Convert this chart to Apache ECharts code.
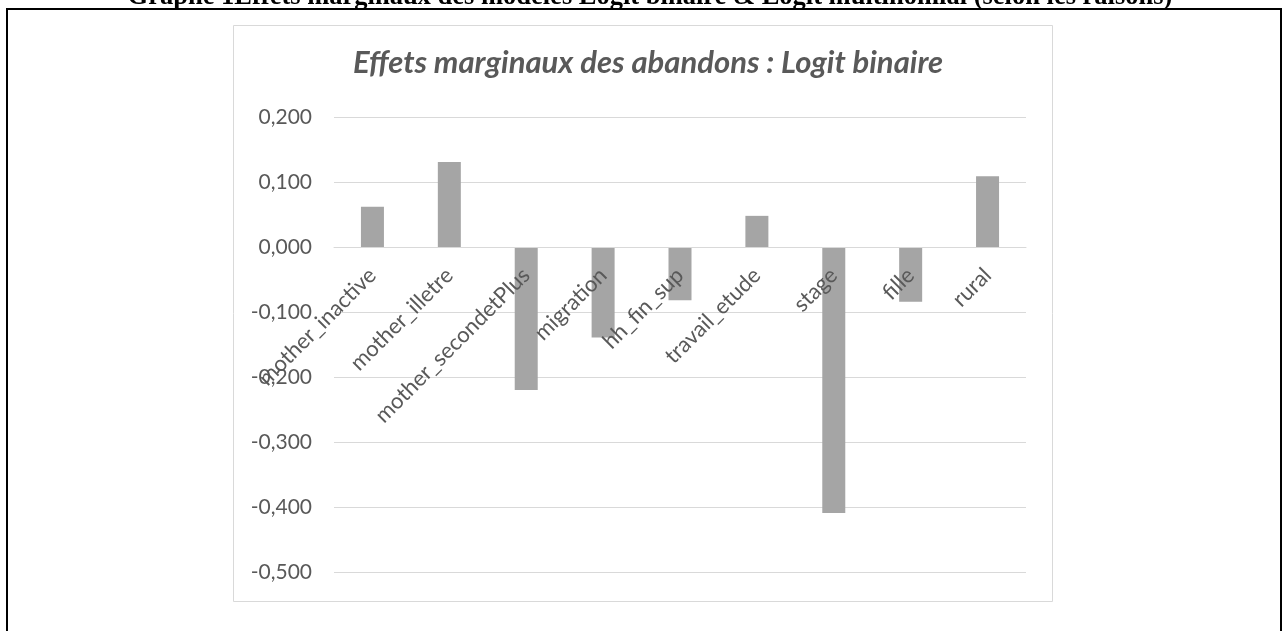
<!DOCTYPE html>
<html>
<head>
<meta charset="utf-8">
<script src="https://cdn.jsdelivr.net/npm/echarts@6/dist/echarts.min.js"></script>
<style>
html,body{margin:0;padding:0;background:#fff;}
#chart{width:1283px;height:631px;}
</style>
</head>
<body>
<div id="chart"></div>
<script>
const categories = ['mother_inactive','mother_illetre','mother_secondetPlus','migration','hh_fin_sup','travail_etude','stage','fille','rural'];
const values = [0.063, 0.132, -0.219, -0.138, -0.081, 0.049, -0.408, -0.083, 0.110];
const chartTitle = 'Effets marginaux des abandons : Logit binaire';
const docCaption = 'Graphe 1Effets marginaux des modèles Logit binaire & Logit multinomial (selon les raisons)';

const chart = echarts.init(document.getElementById('chart'), null, {renderer:'canvas'});
chart.setOption({
  animation:false,
  backgroundColor:'#ffffff',
  title:{
    text:chartTitle,
    left:643, textAlign:'center', top:42,
    textStyle:{fontFamily:'Lato', fontStyle:'italic', fontWeight:'bold', fontSize:31, color:'#595959'}
  },
  graphic:[
    {type:'text', silent:true, z:1, x:650, y:11,
     style:{text:docCaption, x:0, y:0, textAlign:'center', textVerticalAlign:'bottom',
            font:'bold 26.5px "Liberation Serif"', fill:'#000'}},
    {type:'rect', silent:true, z:2,
     shape:{x:7,y:9,width:1274,height:700},
     style:{fill:'none', stroke:'#000', lineWidth:2}},
    {type:'rect', silent:true, z:2,
     shape:{x:233.5,y:25.5,width:819,height:576},
     style:{fill:'none', stroke:'#d9d9d9', lineWidth:1}}
  ],
  grid:{left:334, right:257, top:117.7, bottom:58.3, containLabel:false, outerBoundsMode:'none'},
  xAxis:{
    type:'category', data:categories, z:10,
    axisLine:{show:true, onZero:false, lineStyle:{color:'#d9d9d9', width:1}},
    axisTick:{show:false},
    axisLabel:{rotate:45, interval:0, margin:24, fontFamily:'Lato', fontSize:22, color:'#595959'}
  },
  yAxis:{
    type:'value', min:-0.5, max:0.2, interval:0.1,
    axisLine:{show:false}, axisTick:{show:false},
    splitLine:{lineStyle:{color:'#d9d9d9', width:1}},
    axisLabel:{margin:22, fontFamily:'Lato', fontSize:21, color:'#595959',
      formatter:v=>v.toFixed(3).replace('.',',').replace(/^-0,000$/,'0,000')}
  },
  series:[{
    type:'bar', data:values, barWidth:23, z:2,
    itemStyle:{color:'#a5a5a5'}
  }]
});
// Move the category axis (line + labels) to the zero value, using the library's scale
const yZero = chart.convertToPixel({yAxisIndex:0}, 0);
const yMin = chart.convertToPixel({yAxisIndex:0}, -0.5);
chart.setOption({xAxis:{offset:-(yMin - yZero)}});
</script>
</body>
</html>
